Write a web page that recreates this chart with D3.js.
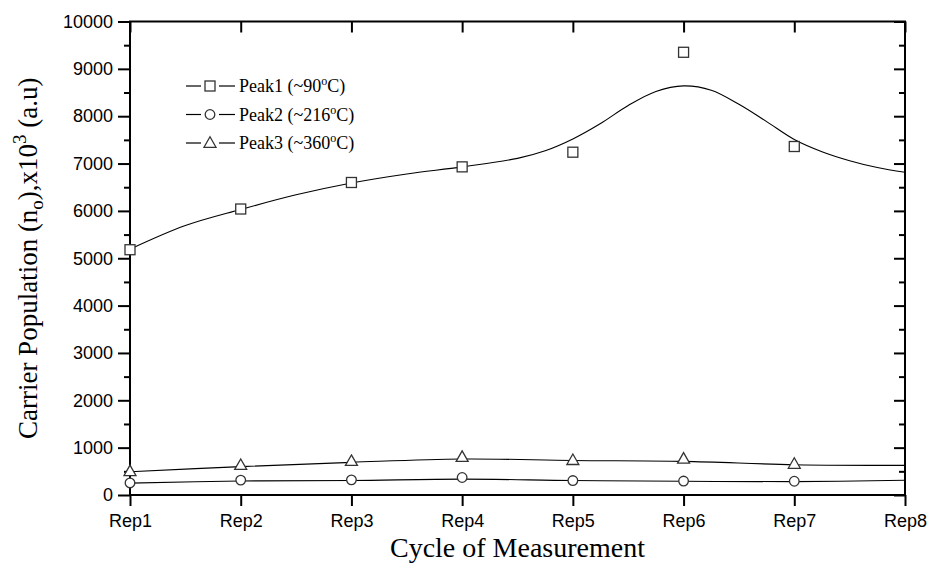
<!DOCTYPE html>
<html>
<head>
<meta charset="utf-8">
<script src="https://cdn.jsdelivr.net/npm/d3@7"></script>
<style>
  html, body { margin: 0; padding: 0; background: #fff; }
  svg { display: block; }
</style>
</head>
<body>
<svg id="chart" width="934" height="579"></svg>
<script>
// ---- Data ----
const categories = ["Rep1", "Rep2", "Rep3", "Rep4", "Rep5", "Rep6", "Rep7", "Rep8"];
const yTickValues = [0, 1000, 2000, 3000, 4000, 5000, 6000, 7000, 8000, 9000, 10000];

// measured points (Rep1..Rep7)
const peak1 = [5180, 6040, 6600, 6930, 7240, 9350, 7360];
const peak2 = [255, 315, 320, 370, 305, 295, 290];
const peak3 = [500, 630, 715, 800, 735, 765, 655];

// fitted curves (position in Rep units, value)
const fit1Pos = [1, 1.5, 2, 2.5, 3, 3.5, 4, 4.5, 4.75, 5, 5.25, 5.5, 5.75, 6, 6.25, 6.5, 6.75, 7, 7.25, 7.5, 7.75, 8];
const fit1Val = [5190, 5690, 6030, 6340, 6590, 6780, 6930, 7110, 7270, 7520, 7846, 8226, 8522, 8640, 8549, 8251, 7886, 7508, 7250, 7060, 6915, 6815];
const fit2Pos = [1, 2, 3, 4, 5, 6, 7, 8];
const fit2Val = [250, 295, 305, 335, 305, 290, 282, 310];
const fit3Pos = [1, 2, 3, 4, 5, 6, 7, 8];
const fit3Val = [490, 600, 690, 760, 730, 710, 640, 625];

const legendLabels = ["Peak1 (~90", "Peak2 (~216", "Peak3 (~360"];

// ---- Layout ----
const svg = d3.select("#chart");
const L = 130, R = 905, T = 21.5, B = 495;

const x = d3.scaleLinear().domain([1, 8]).range([L, R]);
const y = d3.scaleLinear().domain([0, 10000]).range([B, T]);

const markerStroke = "#333";
const sansFont = "Liberation Sans, Arial, sans-serif";
const serifFont = "Liberation Serif, Times New Roman, serif";

// ---- Axes ----
const axisStyle = g => {
  g.select(".domain").remove();
  g.selectAll(".tick line").attr("stroke", "#000").attr("stroke-width", 2);
};

// left axis major
svg.append("g").attr("transform", `translate(${L},0)`)
  .call(d3.axisLeft(y).tickValues(yTickValues).tickSize(12).tickPadding(5).tickFormat(d3.format("d")))
  .call(axisStyle)
  .call(g => g.selectAll("text").attr("font-family", sansFont).attr("font-size", 18).attr("fill", "#000"));
// left axis minor
svg.append("g").attr("transform", `translate(${L},0)`)
  .call(d3.axisLeft(y).tickValues(yTickValues.slice(0, -1).map(v => v + 500)).tickSize(6).tickFormat(""))
  .call(axisStyle);
// right axis major/minor (inward)
svg.append("g").attr("transform", `translate(${R},0)`)
  .call(d3.axisRight(y).tickValues(yTickValues).tickSize(-11).tickFormat(""))
  .call(axisStyle);
svg.append("g").attr("transform", `translate(${R},0)`)
  .call(d3.axisRight(y).tickValues(yTickValues.slice(0, -1).map(v => v + 500)).tickSize(-6).tickFormat(""))
  .call(axisStyle);
// bottom axis
svg.append("g").attr("transform", `translate(0,${B})`)
  .call(d3.axisBottom(x).tickValues(d3.range(1, 9)).tickSize(11).tickPadding(8).tickFormat(d => categories[d - 1]))
  .call(axisStyle)
  .call(g => g.selectAll("text").attr("font-family", sansFont).attr("font-size", 18).attr("fill", "#000"));
// top axis (inward)
svg.append("g").attr("transform", `translate(0,${T})`)
  .call(d3.axisTop(x).tickValues(d3.range(1, 9)).tickSize(-11).tickFormat(""))
  .call(axisStyle);

// frame
svg.append("rect").attr("x", L).attr("y", T).attr("width", R - L).attr("height", B - T)
  .attr("fill", "none").attr("stroke", "#000").attr("stroke-width", 2);

// ---- Curves ----
const line = d3.line().x(d => x(d[0])).y(d => y(d[1])).curve(d3.curveCatmullRom.alpha(0.5));
const fits = [[fit1Pos, fit1Val], [fit2Pos, fit2Val], [fit3Pos, fit3Val]];
fits.forEach(([p, v]) => {
  svg.append("path").datum(p.map((d, i) => [d, v[i]]))
    .attr("d", line).attr("fill", "none").attr("stroke", "#000").attr("stroke-width", 1.1);
});

// ---- Markers ----
const sq = 10, cr = 4.8;
const triPath = "M0,-6.2L6,4.3L-6,4.3Z";
function drawMarker(g, type, cx, cy) {
  if (type === 0) {
    g.append("rect").attr("x", cx - sq / 2).attr("y", cy - sq / 2).attr("width", sq).attr("height", sq)
      .attr("fill", "#fff").attr("stroke", markerStroke).attr("stroke-width", 1.3);
  } else if (type === 1) {
    g.append("circle").attr("cx", cx).attr("cy", cy).attr("r", cr)
      .attr("fill", "#fff").attr("stroke", markerStroke).attr("stroke-width", 1.3);
  } else {
    g.append("path").attr("d", triPath).attr("transform", `translate(${cx},${cy})`)
      .attr("fill", "#fff").attr("stroke", markerStroke).attr("stroke-width", 1.3);
  }
}
const mg = svg.append("g");
[peak1, peak2, peak3].forEach((s, k) => {
  s.forEach((v, i) => drawMarker(mg, k, x(i + 1), y(v)));
});

// ---- Legend ----
const lg = svg.append("g");
const legY = [86, 114.5, 143];
legendLabels.forEach((lab, k) => {
  const yy = legY[k];
  lg.append("line").attr("x1", 186).attr("x2", 201).attr("y1", yy).attr("y2", yy).attr("stroke", "#000").attr("stroke-width", 1.2);
  lg.append("line").attr("x1", 219).attr("x2", 235).attr("y1", yy).attr("y2", yy).attr("stroke", "#000").attr("stroke-width", 1.2);
  drawMarker(lg, k, 210, yy);
  const t = lg.append("text").attr("x", 239).attr("y", yy + 6)
    .attr("font-family", serifFont).attr("font-size", 18).attr("fill", "#000");
  t.append("tspan").text(lab);
  t.append("tspan").attr("dy", -7).attr("font-size", 12).text("o");
  t.append("tspan").attr("dy", 7).text("C)");
});

// ---- Axis titles ----
svg.append("text").attr("x", (L + R) / 2).attr("y", 557).attr("text-anchor", "middle")
  .attr("font-family", serifFont).attr("font-size", 28).attr("fill", "#000")
  .text("Cycle of Measurement");

const yt = svg.append("text").attr("transform", `translate(37,${(T + B) / 2}) rotate(-90)`)
  .attr("text-anchor", "middle")
  .attr("font-family", serifFont).attr("font-size", 27).attr("fill", "#000");
yt.append("tspan").text("Carrier Population (n");
yt.append("tspan").attr("dy", 6).attr("font-size", 19).text("o");
yt.append("tspan").attr("dy", -6).text("),x10");
yt.append("tspan").attr("dy", -11).attr("font-size", 19).text("3");
yt.append("tspan").attr("dy", 11).text(" (a.u)");
</script>
</body>
</html>
